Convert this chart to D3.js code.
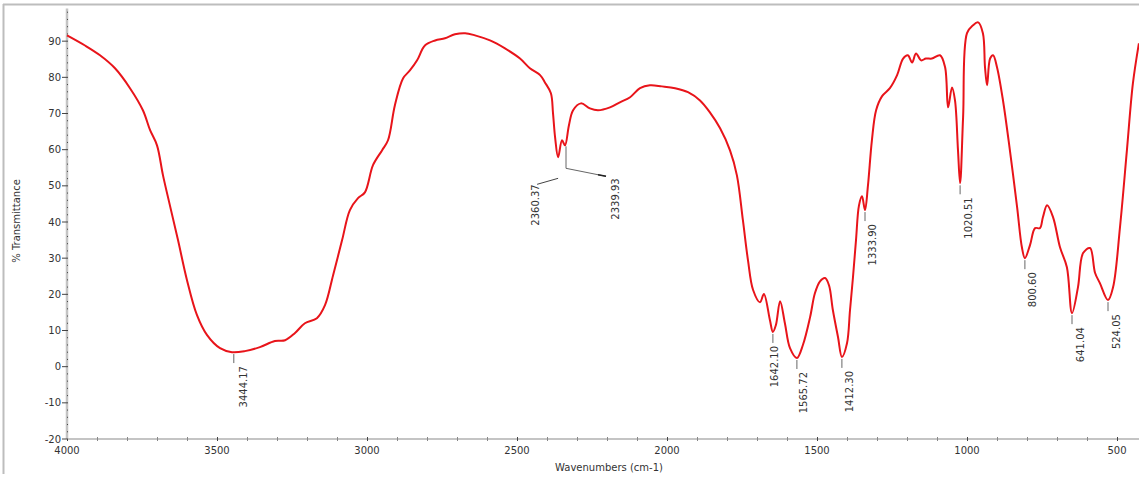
<!DOCTYPE html>
<html>
<head>
<meta charset="utf-8">
<script src="https://cdn.jsdelivr.net/npm/d3@7"></script>
<style>
  html, body { margin: 0; padding: 0; background: #fff; }
  svg { display: block; }
  text { font-family: "DejaVu Sans", sans-serif; fill: #333; }
</style>
</head>
<body>
<svg id="chart" width="1139" height="479"></svg>
<script>
// ---- data ----
const wavenumbers = [4000,3940,3890,3840,3790,3747,3723,3700,3680,3657,3630,3600,3567,3533,3490,3450,3407,3357,3307,3273,3240,3207,3167,3140,3113,3083,3057,3030,3007,2980,2950,2930,2907,2880,2857,2833,2807,2773,2740,2707,2673,2640,2590,2540,2490,2457,2423,2407,2387,2380,2373,2363,2350,2340,2327,2313,2287,2257,2230,2190,2157,2123,2090,2057,2017,1973,1930,1890,1857,1823,1790,1767,1747,1730,1713,1690,1677,1657,1647,1637,1623,1607,1590,1567,1547,1523,1507,1490,1473,1460,1447,1430,1417,1400,1390,1380,1370,1360,1350,1340,1330,1317,1303,1283,1257,1233,1213,1197,1183,1170,1153,1137,1117,1090,1073,1063,1050,1040,1030,1023,1013,1000,980,963,947,940,933,923,913,900,880,857,833,817,807,790,773,757,747,733,713,690,667,650,630,613,590,573,557,530,513,490,467,447,427];
const transmittance = [91.6,88.8,86.1,82.5,77.0,70.9,65.4,61.2,52.9,44.6,35.0,23.9,14.3,8.7,5.1,4.0,4.3,5.4,7.1,7.3,9.3,12.0,13.4,17.0,25.3,35.0,43.3,46.6,48.2,55.7,59.8,62.6,72.3,79.7,81.9,84.7,88.8,90.2,90.8,91.9,92.2,91.6,90.2,88.0,85.2,82.5,80.6,78.6,75.6,70.1,63.4,57.9,62.6,61.2,66.7,70.9,72.8,71.4,70.9,71.7,73.1,74.5,77.0,77.8,77.5,77.0,75.9,73.6,70.3,65.9,59.8,52.9,40.5,29.4,21.2,17.8,20.1,12.9,9.6,11.5,18.1,12.0,5.1,2.4,6.0,13.7,20.3,23.6,24.5,22.5,15.6,8.2,2.7,6.5,15.6,24.8,35.0,44.6,47.1,43.3,50.2,62.6,70.9,74.8,77.0,80.6,85.2,86.1,84.1,86.6,84.7,85.2,85.2,86.1,82.8,71.7,77.2,73.6,59.8,50.7,69.0,92.2,94.4,95.2,92.2,82.8,77.8,85.2,86.1,82.8,73.6,59.8,44.1,33.0,30.0,33.6,38.3,38.3,41.3,44.6,41.3,33.0,27.5,14.8,22.0,31.4,32.8,25.9,23.1,18.4,22.0,38.6,59.8,78.3,89.4];

const xTickValues = [4000,3500,3000,2500,2000,1500,1000,500];
const xTickLabels = ["4000","3500","3000","2500","2000","1500","1000","500"];
const yTickValues = [-20,-10,0,10,20,30,40,50,60,70,80,90];
const yTickLabels = ["-20","-10","0","10","20","30","40","50","60","70","80","90"];

const peakWn     = [3444, 1647, 1567, 1417, 1340, 1023, 807, 650, 530];
const peakLabels = ["3444.17", "1642.10", "1565.72", "1412.30", "1333.90", "1020.51", "800.60", "641.04", "524.05"];
const peakTextDx = [10, 2, 7, 8, 7, 8, 8, 8, 8];

const co2Wn = [2363, 2340];
const co2Labels = ["2360.37", "2339.93"];

const xTitle = "Wavenumbers (cm-1)";
const yTitle = "% Transmittance";

// ---- chart ----
const svg = d3.select("#chart");
const x = d3.scaleLinear().domain([4000, 400]).range([67, 1147]);
const y = d3.scaleLinear().domain([-20, 100]).range([439, 5]);

// frame
svg.append("line").attr("x1", 3).attr("x2", 1139).attr("y1", 4.5).attr("y2", 4.5)
  .attr("stroke", "#bdbdbd").attr("stroke-width", 2);
svg.append("line").attr("x1", 3.5).attr("x2", 3.5).attr("y1", 4).attr("y2", 474)
  .attr("stroke", "#bdbdbd").attr("stroke-width", 2);

// x axis
svg.append("line").attr("x1", x(4000)).attr("x2", 1139).attr("y1", y(-20)).attr("y2", y(-20))
  .attr("stroke", "#c4c4c4").attr("stroke-width", 2);
const minorX = d3.range(4000, 399, -100);
svg.append("g").selectAll("line").data(minorX).join("line")
  .attr("x1", d => x(d) + 0.5).attr("x2", d => x(d) + 0.5)
  .attr("y1", y(-20) - 2).attr("y2", y(-20) + 2)
  .attr("stroke", d => d % 500 === 0 ? "#444" : "#888").attr("stroke-width", 1);
svg.append("g").selectAll("text").data(xTickValues).join("text")
  .attr("x", d => x(d)).attr("y", y(-20) + 15)
  .attr("text-anchor", "middle").attr("font-size", 10)
  .text((d, i) => xTickLabels[i]);
svg.append("text").attr("x", 609).attr("y", 471).attr("text-anchor", "middle")
  .attr("font-size", 10).text(xTitle);

// y axis
svg.append("line").attr("x1", x(4000)).attr("x2", x(4000)).attr("y1", y(-20)).attr("y2", y(99))
  .attr("stroke", "#c4c4c4").attr("stroke-width", 2.5);
const minorY = d3.range(-20, 99, 2);
svg.append("g").selectAll("line").data(minorY).join("line")
  .attr("x1", x(4000) - (0)).attr("x2", x(4000) + 1)
  .attr("y1", d => y(d)).attr("y2", d => y(d))
  .attr("stroke", "#444").attr("stroke-width", 1);
svg.append("g").selectAll("line").data(yTickValues).join("line")
  .attr("x1", x(4000) - 5).attr("x2", x(4000))
  .attr("y1", d => y(d)).attr("y2", d => y(d))
  .attr("stroke", "#444").attr("stroke-width", 1);
svg.append("g").selectAll("text").data(yTickValues).join("text")
  .attr("x", x(4000) - 6).attr("y", d => y(d)).attr("dy", "0.35em")
  .attr("text-anchor", "end").attr("font-size", 10)
  .text((d, i) => yTickLabels[i]);
svg.append("text").attr("transform", "translate(16,221) rotate(-90)")
  .attr("dy", "0.35em").attr("text-anchor", "middle").attr("font-size", 10).text(yTitle);

// spectrum
const pts = wavenumbers.map((w, i) => [w, transmittance[i]]);
const line = d3.line().x(d => x(d[0])).y(d => y(d[1])).curve(d3.curveCatmullRom.alpha(0.5));
svg.append("path").datum(pts).attr("d", line)
  .attr("fill", "none").attr("stroke", "#e8141a").attr("stroke-width", 2);

// interpolate transmittance at a wavenumber
function tAt(w) {
  for (let i = 0; i < wavenumbers.length - 1; i++) {
    const a = wavenumbers[i], b = wavenumbers[i + 1];
    if (w <= a && w >= b) {
      const t = (a - w) / (a - b);
      return transmittance[i] + t * (transmittance[i + 1] - transmittance[i]);
    }
  }
  return transmittance[transmittance.length - 1];
}

// peak annotations
const ann = svg.append("g");
peakWn.forEach((w, i) => {
  const px = x(w), py = y(tAt(w)) + 2;
  ann.append("line").attr("x1", px).attr("x2", px).attr("y1", py).attr("y2", py + 9)
    .attr("stroke", "#666").attr("stroke-width", 1);
  ann.append("text")
    .attr("transform", `translate(${px + peakTextDx[i]},${py + 12}) rotate(-90)`)
    .attr("dy", "0.35em").attr("text-anchor", "end").attr("font-size", 10)
    .text(peakLabels[i]);
});

// CO2 doublet annotation
(function () {
  const bx = x(co2Wn[1]) + 1, by = y(tAt(co2Wn[1])) + 1;
  ann.append("line").attr("x1", bx).attr("x2", bx).attr("y1", by).attr("y2", by + 22)
    .attr("stroke", "#666").attr("stroke-width", 1);
  ann.append("polyline")
    .attr("points", `${bx},${by + 22} ${bx + 40},${by + 30}`)
    .attr("fill", "none").attr("stroke", "#666").attr("stroke-width", 1);
  ann.append("line").attr("x1", bx + 32).attr("x2", bx + 40).attr("y1", by + 28.5).attr("y2", by + 30)
    .attr("stroke", "#222").attr("stroke-width", 1.5);
  ann.append("text")
    .attr("transform", `translate(${bx + 49},${by + 32}) rotate(-90)`)
    .attr("dy", "0.35em").attr("text-anchor", "end").attr("font-size", 10)
    .text(co2Labels[1]);
  const lx = x(co2Wn[0]);
  ann.append("line").attr("x1", lx).attr("x2", lx - 21).attr("y1", by + 32).attr("y2", by + 38)
    .attr("stroke", "#444").attr("stroke-width", 1);
  ann.append("text")
    .attr("transform", `translate(${lx - 23},${by + 38}) rotate(-90)`)
    .attr("dy", "0.35em").attr("text-anchor", "end").attr("font-size", 10)
    .text(co2Labels[0]);
})();
</script>
</body>
</html>
